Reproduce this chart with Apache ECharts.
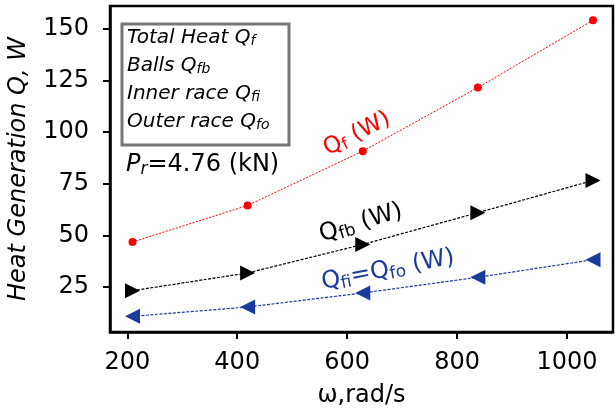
<!DOCTYPE html>
<html>
<head>
<meta charset="utf-8">
<script src="https://cdn.jsdelivr.net/npm/echarts@6/dist/echarts.min.js"></script>
<style>
  html, body { margin: 0; padding: 0; background: #fff; }
  #chart { width: 615px; height: 410px; }
</style>
</head>
<body>
<div id="chart"></div>
<script>
// angular speed, rad/s
const omega = [209.4, 418.9, 628.3, 837.8, 1047.2];
// heat generation, W
const qTotal = [46.8, 64.5, 90.8, 121.6, 154.2];
const qBalls = [23.2, 31.8, 45.6, 61.0, 76.6];
const qRace = [10.8, 15.3, 22.1, 29.7, 38.2];
const xTicks = [200, 400, 600, 800, 1000];
const yTicks = [25, 50, 75, 100, 125, 150];

const font = 'DejaVu Sans';
const blue = '#1a3a9e';

const pairs = (ys) => omega.map((x, i) => [x, ys[i]]);

const myChart = echarts.init(document.getElementById('chart'));

const sub = (size) => ({ fontSize: size, fontFamily: font, padding: [size * 0.55, 0, 0, 0] });

myChart.setOption({
  animation: false,
  grid: {
    left: 110, top: 6, right: 2, bottom: 78,
    outerBoundsMode: 'none',
    show: true, borderColor: '#000', borderWidth: 2.5
  },
  xAxis: {
    type: 'value',
    min: 168.5, max: 1083.6,
    name: 'ω,rad/s',
    nameLocation: 'middle',
    nameGap: 52,
    nameTextStyle: { fontFamily: font, fontSize: 24, color: '#000' },
    axisLine: { lineStyle: { color: '#000', width: 2.5 } },
    axisTick: { customValues: xTicks, length: 7, lineStyle: { width: 2, color: '#000' } },
    axisLabel: {
      customValues: xTicks, fontFamily: font, fontSize: 24, color: '#000', margin: 19,
      formatter: (v) => String(v)
    },
    splitLine: { show: false }
  },
  yAxis: {
    type: 'value',
    min: 3.2, max: 161.1,
    name: 'Heat Generation Q, W',
    nameLocation: 'middle',
    nameGap: 79,
    nameTextStyle: { fontFamily: font, fontSize: 24, fontStyle: 'italic', color: '#000' },
    axisLine: { lineStyle: { color: '#000', width: 2.5 } },
    axisTick: { customValues: yTicks, length: 7, lineStyle: { width: 2, color: '#000' } },
    axisLabel: {
      customValues: yTicks, fontFamily: font, fontSize: 24, color: '#000', margin: 21,
      formatter: (v) => String(v)
    },
    splitLine: { show: false }
  },
  series: [
    {
      name: 'Total', type: 'line', data: pairs(qTotal),
      symbol: 'circle', symbolSize: 8,
      itemStyle: { color: '#ff0000' },
      lineStyle: { color: '#ff0000', width: 1, type: [2, 1.5] }
    },
    {
      name: 'Balls', type: 'line', data: pairs(qBalls),
      symbol: 'triangle', symbolRotate: -90, symbolSize: 15,
      itemStyle: { color: '#000' },
      lineStyle: { color: '#000', width: 1.2, type: [3, 1.5] }
    },
    {
      name: 'Race', type: 'line', data: pairs(qRace),
      symbol: 'triangle', symbolRotate: 90, symbolSize: 15,
      itemStyle: { color: blue },
      lineStyle: { color: blue, width: 1.2, type: [3, 1.5] }
    }
  ],
  graphic: [
    {
      type: 'rect',
      shape: { x: 122, y: 24, width: 167, height: 121 },
      style: { fill: '#fff', stroke: '#767676', lineWidth: 3 },
      z: 10
    },
    {
      type: 'text', left: 127, top: 27, z: 11,
      style: {
        text: '{m|Total Heat Q}{s|f}\n{m|Balls Q}{s|fb}\n{m|Inner race Q}{s|fi}\n{m|Outer race Q}{s|fo}',
        rich: {
          m: { fontSize: 20, fontFamily: font, fontStyle: 'italic', lineHeight: 28, fill: '#000' },
          s: Object.assign(sub(14), { fontStyle: 'italic', lineHeight: 28, fill: '#000' })
        }
      }
    },
    {
      type: 'text', left: 126, top: 153, z: 11,
      style: {
        text: '{p|P}{s|r}{m|=4.76 (kN)}',
        rich: {
          p: { fontSize: 24, fontFamily: font, fontStyle: 'italic', fill: '#000' },
          s: Object.assign(sub(17), { fontStyle: 'italic', fill: '#000' }),
          m: { fontSize: 24, fontFamily: font, fill: '#000' }
        }
      }
    },
    {
      type: 'text', x: 357, y: 134, rotation: 27 * Math.PI / 180, z: 11,
      style: {
        text: '{m|Q}{s|f}{m| (W)}',
        align: 'center', verticalAlign: 'middle',
        rich: {
          m: { fontSize: 23, fontFamily: font, fill: '#ff0000' },
          s: Object.assign(sub(16), { fill: '#ff0000' })
        }
      }
    },
    {
      type: 'text', x: 361, y: 223, rotation: 17 * Math.PI / 180, z: 11,
      style: {
        text: '{m|Q}{s|fb}{m| (W)}',
        align: 'center', verticalAlign: 'middle',
        rich: {
          m: { fontSize: 24, fontFamily: font, fill: '#000' },
          s: Object.assign(sub(17), { fill: '#000' })
        }
      }
    },
    {
      type: 'text', x: 388, y: 270, rotation: 11 * Math.PI / 180, z: 11,
      style: {
        text: '{m|Q}{s|fi}{m|=Q}{s|fo}{m| (W)}',
        align: 'center', verticalAlign: 'middle',
        rich: {
          m: { fontSize: 24, fontFamily: font, fill: blue },
          s: Object.assign(sub(17), { fill: blue })
        }
      }
    }
  ]
});
</script>
</body>
</html>
